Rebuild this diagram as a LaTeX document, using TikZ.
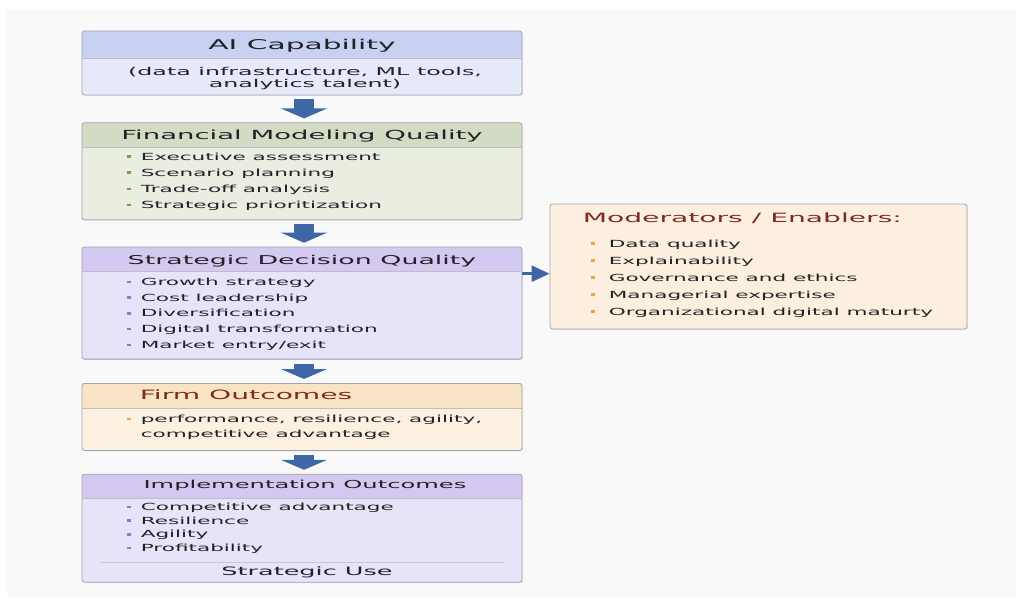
\documentclass[tikz,border=0pt]{standalone}
\usepackage{fontspec}
\setmainfont{DejaVu Sans}[FakeStretch=2.2]
\usetikzlibrary{positioning,arrows.meta,shadows}

\definecolor{bgc}{HTML}{F9F9FA}
\definecolor{boxline}{HTML}{A3A3AD}
\definecolor{ink}{HTML}{222226}
\definecolor{titred}{HTML}{7D2B1E}
\definecolor{arrowc}{HTML}{3F66A5}
\definecolor{capH}{HTML}{C8D1F2}
\definecolor{capB}{HTML}{E5E9FA}
\definecolor{finH}{HTML}{D2DCC5}
\definecolor{finB}{HTML}{E9EEE1}
\definecolor{sdqH}{HTML}{D4C9F1}
\definecolor{sdqB}{HTML}{E9E3FA}
\definecolor{firmH}{HTML}{F8E3C4}
\definecolor{firmB}{HTML}{FCF1E1}
\definecolor{impH}{HTML}{D3C8F0}
\definecolor{impB}{HTML}{E8E3F8}
\definecolor{modB}{HTML}{FCEFDF}
\definecolor{bgreen}{HTML}{7A9A45}
\definecolor{bpurple}{HTML}{8A7CC8}
\definecolor{borange}{HTML}{F2A23A}

\newcommand{\bul}[2][16pt]{\makebox[#1][l]{\hspace{2pt}\textcolor{#2}{\rule[2.2pt]{4pt}{2.6pt}}}}

\begin{document}
\begin{tikzpicture}[x=1pt, y=-1pt,
    block/.style = {draw=boxline, line width=0.8pt, rounded corners=2.5pt, minimum width=440pt, inner sep=0pt,
        drop shadow={opacity=0.15, shadow xshift=1pt, shadow yshift=-1pt}},
    head/.style 2 args = {path picture={
        \fill[#1] (path picture bounding box.north west) rectangle ([yshift=-#2]path picture bounding box.north east);
        \draw[boxline!70, line width=0.6pt] ([yshift=-#2]path picture bounding box.north west) -- ([yshift=-#2]path picture bounding box.north east);}},
    title/.style = {text=ink, inner sep=0pt, font=\fontsize{12.5pt}{15pt}\selectfont},
    body/.style = {text=ink, inner sep=0pt, align=left, anchor=north west},
    flow/.style = {draw=arrowc, line width=20pt, shorten <=4pt, shorten >=4pt, -{Triangle[width=46pt,length=10pt]}},
    side/.style = {draw=arrowc, line width=2.5pt, -{Triangle[width=16pt,length=18pt]}}]
    \useasboundingbox (0,0) rectangle (1023,604);
    \fill[white] (0,0) rectangle (1023,604);
    \fill[bgc] (7,9) rectangle (1016,597);

    \node[block, fill=capB, head={capH}{27pt}, minimum height=64pt] (cap) at (302,63) {};
    \node[block, fill=finB, head={finH}{25pt}, minimum height=97pt, below=27pt of cap] (fin) {};
    \node[block, fill=sdqB, head={sdqH}{24pt}, minimum height=112pt, below=26.5pt of fin] (sdq) {};
    \node[block, fill=firmB, head={firmH}{25pt}, minimum height=67pt, below=23.5pt of sdq] (firm) {};
    \node[block, fill=impB, head={impH}{24pt}, minimum height=108pt, below=23pt of firm] (imp) {};
    \node[block, fill=modB, minimum width=417pt, minimum height=125pt] (mod) at (758.5,266.5) {};

    \node[title, font=\fontsize{13.5pt}{16pt}\selectfont] (capT) at ([yshift=-15pt]cap.north) {AI Capability};
    \node[title] (finT) at ([yshift=-13.5pt]fin.north) {Financial Modeling Quality};
    \node[title, font=\fontsize{12.2pt}{15pt}\selectfont] (sdqT) at ([yshift=-14pt]sdq.north) {Strategic Decision Quality};
    \node[title, text=titred, anchor=west, font=\fontsize{12.8pt}{15pt}\selectfont] (firmT) at ([xshift=58pt,yshift=-12pt]firm.north west) {Firm Outcomes};
    \node[title, font=\fontsize{11pt}{14pt}\selectfont] (impT) at ([xshift=3pt,yshift=-12pt]imp.north) {Implementation Outcomes};
    \node[title, text=titred, anchor=west, font=\fontsize{12.8pt}{15pt}\selectfont] (modT) at ([xshift=33pt,yshift=-14.5pt]mod.north west) {Moderators / Enablers:};
    \node[title, font=\fontsize{11.6pt}{14pt}\selectfont] (useT) at ([xshift=5pt,yshift=10pt]imp.south) {Strategic Use};

    \node[body, align=center, anchor=center, font=\fontsize{10.8pt}{12.5pt}\selectfont] (capL) at ([xshift=3pt,yshift=-48pt]cap.north) {(data infrastructure, ML tools,\\analytics talent)};
    \node[body, font=\fontsize{9.8pt}{16.2pt}\selectfont] (finL) at ([xshift=43pt,yshift=-30pt]fin.north west) {\bul{bgreen}Executive assessment\\
        \bul{bgreen}Scenario planning\\
        \bul{bgreen}Trade-off analysis\\
        \bul{bgreen}Strategic prioritization};
    \node[body, font=\fontsize{9.8pt}{15.75pt}\selectfont] (sdqL) at ([xshift=43pt,yshift=-31pt]sdq.north west) {\bul{bpurple}Growth strategy\\
        \bul{bpurple}Cost leadership\\
        \bul{bpurple}Diversification\\
        \bul{bpurple}Digital transformation\\
        \bul{bpurple}Market entry/exit};
    \node[body, font=\fontsize{9.8pt}{15pt}\selectfont] (firmL) at ([xshift=43pt,yshift=-32pt]firm.north west) {\bul{borange}performance, resilience, agility,\\
        \hspace*{16pt}competitive advantage};
    \node[body, font=\fontsize{9.8pt}{13.7pt}\selectfont] (impL) at ([xshift=43pt,yshift=-29pt]imp.north west) {\bul{bpurple}Competitive advantage\\
        \bul{bpurple}Resilience\\
        \bul{bpurple}Agility\\
        \bul{bpurple}Profitability};
    \node[body, font=\fontsize{9.8pt}{17pt}\selectfont] (modL) at ([xshift=39pt,yshift=-36pt]mod.north west) {\bul[20pt]{borange}Data quality\\
        \bul[20pt]{borange}Explainability\\
        \bul[20pt]{borange}Governance and ethics\\
        \bul[20pt]{borange}Managerial expertise\\
        \bul[20pt]{borange}Organizational digital maturty};

    \draw[boxline!60, line width=0.6pt] ([xshift=18pt,yshift=20pt]imp.south west) -- ([xshift=-17pt,yshift=20pt]imp.south east);

    \draw[flow] ([xshift=2pt]cap.south) -- ([xshift=2pt]fin.north);
    \draw[flow] ([xshift=2pt]fin.south) -- ([xshift=2pt]sdq.north);
    \draw[flow] ([xshift=2pt]sdq.south) -- ([xshift=2pt]firm.north);
    \draw[flow] ([xshift=2pt]firm.south) -- ([xshift=2pt]imp.north);
    \coordinate (sdqOut) at ([yshift=-27pt]sdq.north east);
    \draw[side] (sdqOut) -- (sdqOut -| mod.west);

\end{tikzpicture}
\end{document}
